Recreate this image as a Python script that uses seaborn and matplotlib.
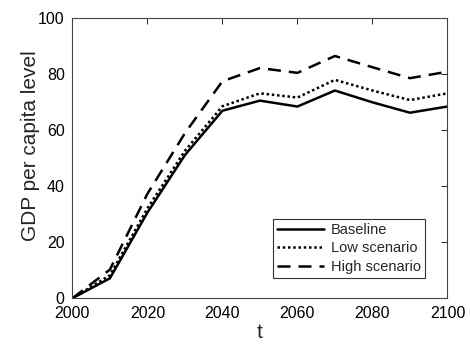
import matplotlib
matplotlib.use("Agg")
import matplotlib.pyplot as plt
import seaborn as sns
import pandas as pd

years = [2000, 2010, 2020, 2030, 2040, 2050, 2060, 2070, 2080, 2090, 2100]
baseline = [0.0, 7.1, 30.5, 51.0, 66.8, 70.4, 68.3, 74.0, 69.8, 66.1, 68.3]
low_scenario = [0.0, 8.2, 32.0, 52.5, 68.4, 73.0, 71.5, 77.8, 74.0, 70.6, 73.0]
high_scenario = [0.0, 10.2, 37.2, 58.8, 77.3, 82.0, 80.3, 86.3, 82.3, 78.4, 80.7]
series_names = ["Baseline", "Low scenario", "High scenario"]
x_ticks = [2000, 2020, 2040, 2060, 2080, 2100]
y_ticks = [0, 20, 40, 60, 80, 100]

df = pd.DataFrame({
    "t": years * 3,
    "value": baseline + low_scenario + high_scenario,
    "series": [n for n in series_names for _ in years],
})

sns.set_style("white")
plt.rcParams["font.family"] = ["Liberation Sans", "DejaVu Sans"]

fig = plt.figure(figsize=(4.7, 3.44), dpi=100)
ax = fig.add_axes([0.154, 0.133, 0.798, 0.816])

sns.lineplot(data=df, x="t", y="value", hue="series", style="series",
             palette=["black"] * 3,
             dashes={"Baseline": "", "Low scenario": (1, 1.1), "High scenario": (5.2, 3.2)},
             linewidth=1.8, ax=ax, legend=False)

ax.set_xlim(2000, 2100)
ax.set_ylim(0, 100)
ax.set_xticks(x_ticks)
ax.set_yticks(y_ticks)
ax.tick_params(direction="in", top=True, right=True, length=4, width=0.6,
               labelsize=11.5, colors="black")
ax.tick_params(axis="x", pad=5.5)
ax.tick_params(axis="y", pad=5.5)
for s in ax.spines.values():
    s.set_visible(True)
    s.set_color("#444444")
    s.set_linewidth(0.8)

ax.set_xlabel("t", fontsize=15, labelpad=1.5)
ax.set_ylabel("GDP per capita level", fontsize=15)
ax.yaxis.set_label_coords(-0.085, 0.543)

handles = ax.get_lines()[:3]
leg = ax.legend(handles, series_names, loc="lower right",
                bbox_to_anchor=(0.94, 0.072), fontsize=10.5,
                frameon=True, fancybox=False, handlelength=3.2,
                borderpad=0.3, labelspacing=0.3, handletextpad=0.45,
                borderaxespad=0)
leg.get_frame().set_edgecolor("black")
leg.get_frame().set_linewidth(0.8)

fig.savefig("out.png", dpi=100, facecolor="white")
